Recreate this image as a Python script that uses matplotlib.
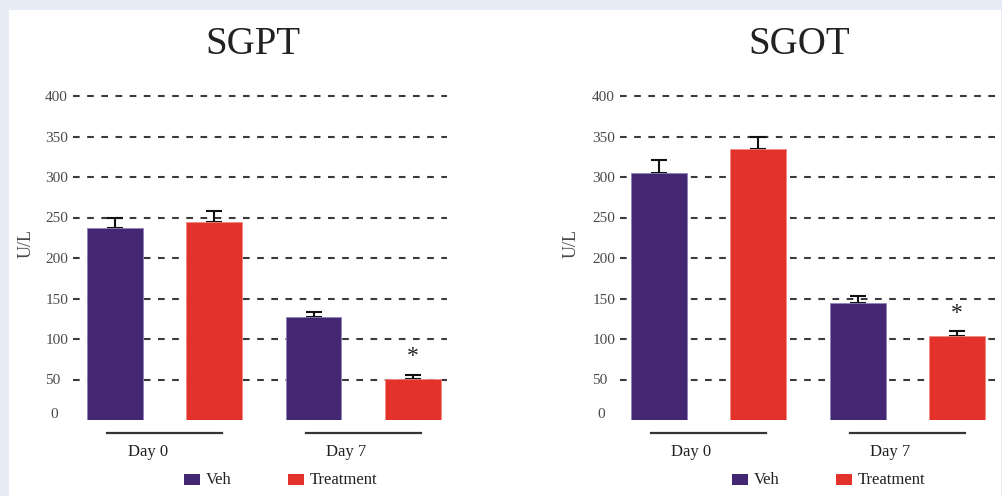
import matplotlib
matplotlib.use("Agg")
import matplotlib.pyplot as plt
import matplotlib.transforms as mtransforms
from matplotlib.patches import Rectangle
import numpy as np

# ---- data -------------------------------------------------------------
panels = ["SGPT", "SGOT"]
groups = ["Day 0", "Day 7"]
series = ["Veh", "Treatment"]

# mean values (U/L): [Veh Day0, Treatment Day0, Veh Day7, Treatment Day7]
sgpt_mean = [237, 245, 127, 51]
sgpt_err = [12, 13, 6, 5]
sgot_mean = [305, 334, 145, 104]
sgot_err = [16, 16, 8, 6]
significant = [False, False, False, True]

y_ticks = [0, 50, 100, 150, 200, 250, 300, 350, 400]

# ---- style ------------------------------------------------------------
plt.rcParams["font.family"] = ["Liberation Serif", "DejaVu Serif"]
plt.rcParams["lines.scale_dashes"] = False

PURPLE = "#432772"
RED = "#e3322c"
GRID = "#3a3a3a"
TEXT = "#222222"
TICK = "#4a4a4a"

W, H = 1002, 496
fig = plt.figure(figsize=(W / 100, H / 100), dpi=100)
fig.patch.set_facecolor("#e7ebf6")

# white card
fig.add_artist(Rectangle((9 / W, 0), (1001 - 9) / W, (H - 10) / H,
                         transform=fig.transFigure, facecolor="white",
                         edgecolor="none", zorder=0))


def px_box(x0, x1, ytop, ybot):
    return [x0 / W, 1 - ybot / H, (x1 - x0) / W, (ybot - ytop) / H]


axes_specs = [
    dict(box=px_box(73, 447, 96, 420), xlim=(-0.422, 3.342),
         title_x=253, ylabel_x=26, legend_x=(184, 288)),
    dict(box=px_box(620, 997, 96, 420), xlim=(-0.389, 3.40),
         title_x=799, ylabel_x=571, legend_x=(732, 836)),
]
data = [(sgpt_mean, sgpt_err), (sgot_mean, sgot_err)]
colors = [PURPLE, RED, PURPLE, RED]
edges = ["#8e84b8", "#f08a84", "#8e84b8", "#f08a84"]
x = np.arange(4)

for name, spec, (means, errs) in zip(panels, axes_specs, data):
    ax = fig.add_axes(spec["box"])
    ax.set_facecolor("none")
    ax.set_xlim(*spec["xlim"])
    ax.set_ylim(0, 400)
    for s in ax.spines.values():
        s.set_visible(False)

    # dashed reference lines
    for yv in y_ticks[1:]:
        ax.axhline(yv, color=GRID, lw=1.5, dashes=(4.8, 5.4), zorder=1,
                   clip_on=False)

    ax.bar(x, means, width=0.56, color=colors, edgecolor=edges,
           linewidth=0.6, zorder=3)
    ax.errorbar(x, means, yerr=[np.zeros(4), errs], fmt="none",
                ecolor="#111111", elinewidth=1.5, capsize=5.8,
                capthick=1.5, zorder=2)

    for xi, m, e, sig in zip(x, means, errs, significant):
        if sig:
            ax.text(xi, m + e + 22, "*", ha="center", va="center",
                    fontsize=17, color=TEXT)

    ax.set_xticks([])
    ax.set_yticks(y_ticks[1:])
    ax.set_yticklabels([str(v) for v in y_ticks[1:]], ha="left")
    ax.tick_params(axis="y", length=0, pad=20, labelsize=11, labelcolor=TICK)
    # baseline label, set slightly in from the others
    ax.annotate(str(y_ticks[0]), xy=(0, y_ticks[0]),
                xycoords=("axes fraction", "data"), xytext=(-19, 5),
                textcoords="offset pixels", ha="center", va="center",
                fontsize=11, color=TICK, annotation_clip=False)

    # group underline + labels
    trans = mtransforms.blended_transform_factory(ax.transData, ax.transAxes)
    for gi, g in enumerate(groups):
        c = 2 * gi + 0.5
        ax.plot([c - 0.58, c + 0.58], [-0.04, -0.04], color="#333333",
                lw=1.6, transform=trans, clip_on=False)
        ax.text(c - 0.17, -0.10, g, transform=trans, ha="center",
                va="center", fontsize=12, color=TEXT)

    # title & y-label
    fig.text(spec["title_x"] / W, 1 - 45 / H, name, ha="center",
             va="center", fontsize=28, color=TEXT)
    fig.text(spec["ylabel_x"] / W, 1 - 243 / H, "U/L", rotation=90,
             ha="center", va="center", fontsize=13, color=TICK)

    # legend
    for lx, lab, col in zip(spec["legend_x"], series, [PURPLE, RED]):
        fig.add_artist(Rectangle((lx / W, 1 - 485 / H), 16 / W, 11 / H,
                                 transform=fig.transFigure, facecolor=col,
                                 edgecolor="none"))
        fig.text((lx + 22) / W, 1 - 480.5 / H, lab, ha="left", va="center",
                 fontsize=12, color=TEXT)

fig.savefig("out.png", dpi=100, facecolor=fig.get_facecolor())
